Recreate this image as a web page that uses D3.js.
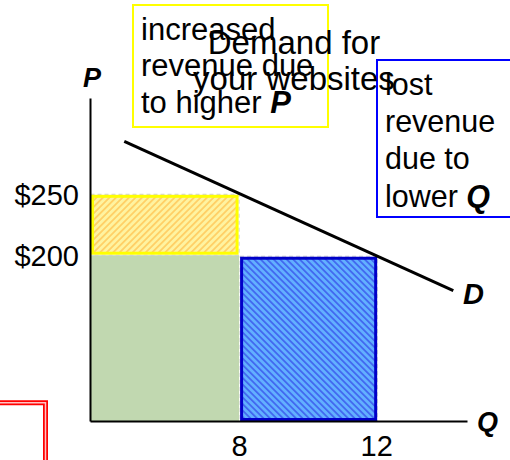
<!DOCTYPE html>
<html>
<head>
<meta charset="utf-8">
<script src="https://cdn.jsdelivr.net/npm/d3@7"></script>
<style>
  body { margin: 0; background: #fff; }
  svg { display: block; font-family: "Liberation Sans", Arial, sans-serif; }
</style>
</head>
<body>
<script>
// axis extents (schematic, axes do not start at zero)
const qRange = [3.65, 14.65];
const pRange = [64, 329];

const tickQ = [8, 12];
const tickP = [200, 250];

// demand curve end points
const demandQ = [4.65, 14.25];
const demandP = [293.5, 171];

// revenue areas: [q0, q1, p0, p1]
const oldRevenue = [3.65, 8, 64, 200];
const gainArea = [3.65, 8, 200, 250];
const lossArea = [8, 12, 64, 200];

const titleLines = ["Demand for", "your websites"];
const gainLines = ["increased", "revenue due", "to higher "];
const lossLines = ["lost", "revenue", "due to", "lower "];

const width = 510, height = 460;

const svg = d3.select("body").append("svg")
  .attr("width", width)
  .attr("height", height);

const x = d3.scaleLinear().domain(qRange).range([90, 467]);
const y = d3.scaleLinear().domain(pRange).range([421, 98]);

const defs = svg.append("defs");
function stripes(id, bg, fg, angle) {
  const p = defs.append("pattern")
    .attr("id", id)
    .attr("patternUnits", "userSpaceOnUse")
    .attr("width", 4.6).attr("height", 4.6)
    .attr("patternTransform", `rotate(${angle})`);
  p.append("rect").attr("width", 4.6).attr("height", 4.6).attr("fill", bg);
  p.append("rect").attr("width", 1.8).attr("height", 4.6).attr("fill", fg);
}
stripes("hatchYellow", "#fff3a0", "#ffd066", 45);
stripes("hatchBlue", "#62b0ff", "#4268f0", -45);

function box(a) {
  return { x: x(a[0]), y: y(a[3]), w: x(a[1]) - x(a[0]), h: y(a[2]) - y(a[3]) };
}

// green: revenue kept
const g = box(oldRevenue);
svg.append("rect")
  .attr("x", g.x).attr("y", g.y).attr("width", g.w).attr("height", g.h)
  .attr("fill", "#c1d8b0");

// yellow: gain
const yb = box(gainArea);
svg.append("rect")
  .attr("x", yb.x + 0.5).attr("y", yb.y).attr("width", yb.w - 0.5).attr("height", yb.h)
  .attr("fill", "none").attr("stroke", "#cccccc").attr("stroke-dasharray", "4,3");
svg.append("rect")
  .attr("x", yb.x + 2.5).attr("y", yb.y + 2).attr("width", yb.w - 4.5).attr("height", yb.h - 4)
  .attr("fill", "url(#hatchYellow)")
  .attr("stroke", "#ffff00").attr("stroke-width", 3);

// blue: loss
const bb = box(lossArea);
svg.append("rect")
  .attr("x", bb.x + 1).attr("y", bb.y + 1).attr("width", bb.w).attr("height", bb.h - 1)
  .attr("fill", "none").attr("stroke", "#cccccc").attr("stroke-dasharray", "4,3");
svg.append("rect")
  .attr("x", bb.x + 2.5).attr("y", bb.y + 3).attr("width", bb.w - 3).attr("height", bb.h - 4.5)
  .attr("fill", "url(#hatchBlue)")
  .attr("stroke", "#0000c8").attr("stroke-width", 3);

// axes
const yAxis = svg.append("g")
  .attr("transform", `translate(${x(qRange[0])},0)`)
  .call(d3.axisLeft(y).tickValues(tickP).tickFormat(d => "$" + d).tickSize(0).tickPadding(11));
const xAxis = svg.append("g")
  .attr("transform", `translate(0,${y(pRange[0])})`)
  .call(d3.axisBottom(x).tickValues(tickQ).tickSize(0).tickPadding(14));
[yAxis, xAxis].forEach(a => {
  a.select(".domain").attr("stroke", "#000").attr("stroke-width", 2);
  a.selectAll("text").attr("font-size", 29).attr("fill", "#000")
    .attr("font-family", "Liberation Sans, Arial, sans-serif");
});
yAxis.selectAll("text").attr("dy", "0.36em");

// demand curve
svg.append("path")
  .datum(d3.zip(demandQ, demandP))
  .attr("d", d3.line().x(d => x(d[0])).y(d => y(d[1])))
  .attr("stroke", "#000").attr("stroke-width", 3).attr("fill", "none");

// axis letters
const bi = sel => sel.attr("font-weight", "bold").attr("font-style", "italic");
svg.append("text").attr("x", 92).attr("y", 87).attr("text-anchor", "middle")
  .attr("font-size", 27).text("P").call(bi);
svg.append("text").attr("x", 477).attr("y", 431)
  .attr("font-size", 27).text("Q").call(bi);
svg.append("text").attr("x", 463).attr("y", 304)
  .attr("font-size", 29).text("D").call(bi);

// yellow note box
svg.append("rect")
  .attr("x", 133).attr("y", 5).attr("width", 195).attr("height", 122)
  .attr("fill", "none").attr("stroke", "#ffff00").attr("stroke-width", 2);
const gt = svg.append("text").attr("font-size", 31);
gainLines.forEach((t, i) => {
  gt.append("tspan").attr("x", 141).attr("y", 39.5 + i * 36.7).text(t);
  if (i === gainLines.length - 1) gt.append("tspan").text("P").call(bi);
});

// blue note box
svg.append("rect")
  .attr("x", 377).attr("y", 60).attr("width", 140).attr("height", 157)
  .attr("fill", "none").attr("stroke", "#0000ff").attr("stroke-width", 2);
const lt = svg.append("text").attr("font-size", 30.5);
lossLines.forEach((t, i) => {
  lt.append("tspan").attr("x", 385).attr("y", 95 + i * 37.2).text(t);
  if (i === lossLines.length - 1) lt.append("tspan").text("Q").call(bi);
});

// title
const tt = svg.append("text").attr("font-size", 33).attr("text-anchor", "middle");
titleLines.forEach((t, i) => {
  tt.append("tspan").attr("x", 294).attr("y", 54 + i * 36).text(t);
});

// red double frame, bottom left
const frame = d3.path();
frame.moveTo(-10, 402.8); frame.lineTo(45.5, 402.8); frame.lineTo(45.5, 470);
svg.append("path").attr("d", frame.toString())
  .attr("fill", "none").attr("stroke", "#ff0000").attr("stroke-width", 5);
svg.append("path").attr("d", frame.toString())
  .attr("fill", "none").attr("stroke", "#ffc4c4").attr("stroke-width", 1.5);
</script>
</body>
</html>
